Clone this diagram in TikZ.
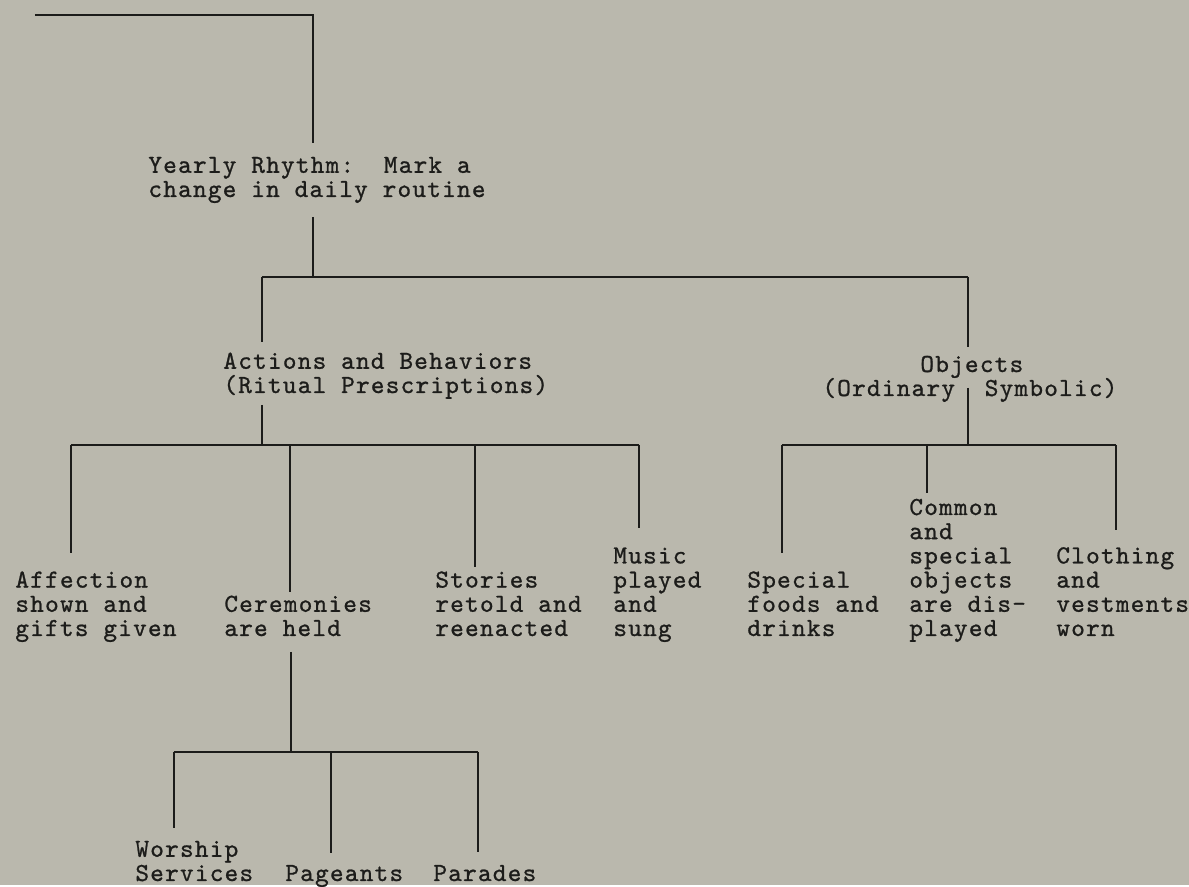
\documentclass[tikz,border=0pt]{standalone}
\usepackage{fontspec}
\newfontfamily\typeface{lmmono10-regular.otf}[LetterSpace=4.7, FakeBold=0.9]
\newcommand\itemfont{\typeface\fontsize{13}{12.1}\selectfont\spaceskip=7.44pt\relax}
\usetikzlibrary{positioning}
\definecolor{paper}{RGB}{186,184,173}
\definecolor{ink}{RGB}{28,28,26}

\begin{document}
\begin{tikzpicture}[
  x=0.5pt, y=-0.5pt,
  item/.style={anchor=base west, inner sep=0pt, align=left, text=ink, font={\itemfont}},
  branch/.style={draw=ink, line width=1.25pt}
]

% Page
\fill[paper] (0,0) rectangle (1189,885);

% Level 1
\node[item] (yearly) at (148,197) {Yearly Rhythm:~~Mark a\\change in daily routine};

% Level 2
\node[item] (actions) at (223,393) {Actions and Behaviors\\(Ritual Prescriptions)};
\node[item] (objects) at (920,372) {Objects};
\node[item] (kinds) at (822,396) {(Ordinary~~Symbolic)};

% Level 3: Actions
\node[item] (affection) at (15,636) {Affection\\shown and\\gifts given};
\node[item] (ceremonies) at (224,636) {Ceremonies\\are held};
\node[item] (stories) at (435,636) {Stories\\retold and\\reenacted};
\node[item] (music) at (613,636) {Music\\played\\and\\sung};

% Level 3: Objects
\node[item] (foods) at (747,636) {Special\\foods and\\drinks};
\node[item] (common) at (909,636) {Common\\and\\special\\objects\\are dis-\\played};
\node[item] (clothing) at (1056,636) {Clothing\\and\\vestments\\worn};

% Level 4: Ceremonies
\node[item] (worship) at (135,881) {Worship\\Services};
\node[item] (pageants) at (285,881) {Pageants};
\node[item] (parades) at (433,881) {Parades};

% Junctions
\coordinate (top) at (35,15);
\coordinate (jin) at (313,143);
\coordinate (jyear) at (313,277);
\coordinate (jact) at (262,445);
\coordinate (jobj) at (968,445);
\coordinate (jcer) at (291,752);

% Lines
\draw[branch] (top) -| (jin);
\draw[branch] (313,217) -- (jyear);
\draw[branch] (jyear -| jact) -- (jyear -| jobj);
\draw[branch] (jyear -| jact) -- ++(0,65);
\draw[branch] (jyear -| jobj) -- ++(0,70);
\draw[branch] (262,405) -- (jact);
\draw[branch] (968,388) -- (jobj);

% Actions branches
\draw[branch] (71,445) -- (639,445);
\draw[branch] (71,445) -- (71,553);
\draw[branch] (290,445) -- (290,592);
\draw[branch] (475,445) -- (475,567);
\draw[branch] (639,445) -- (639,528);

% Objects branches
\draw[branch] (782,445) -- (1116,445);
\draw[branch] (782,445) -- (782,553);
\draw[branch] (927,445) -- (927,493);
\draw[branch] (1116,445) -- (1116,530);

% Ceremonies branches
\draw[branch] (291,652) -- (jcer);
\draw[branch] (174,752) -- (478,752);
\draw[branch] (174,752) -- (174,828);
\draw[branch] (331,752) -- (331,853);
\draw[branch] (478,752) -- (478,852);

\end{tikzpicture}
\end{document}
